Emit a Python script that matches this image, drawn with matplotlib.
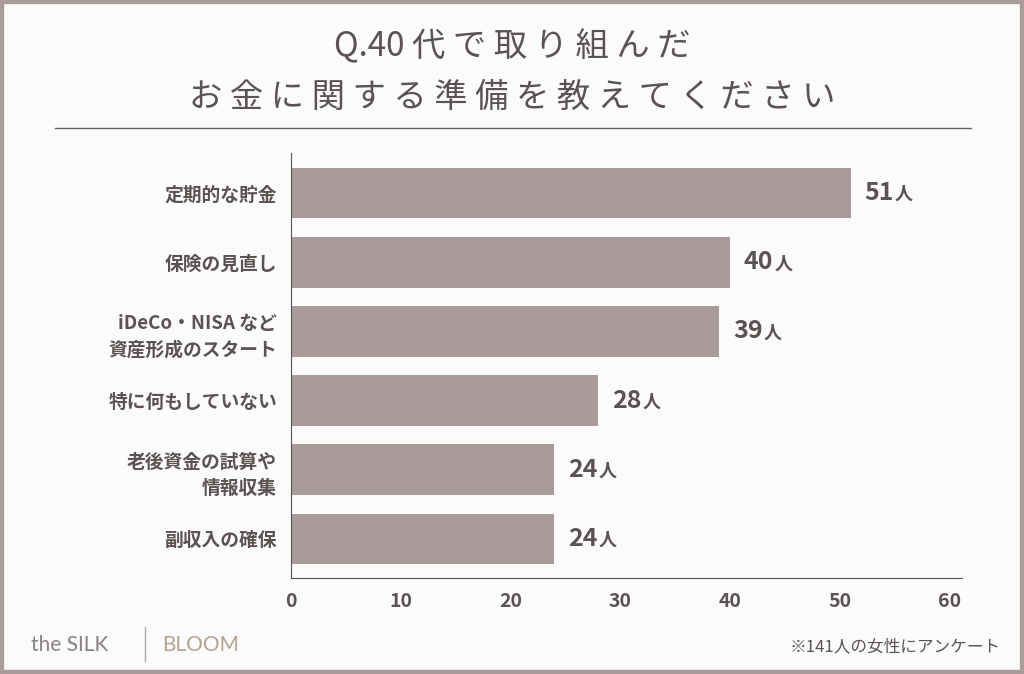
import matplotlib
matplotlib.use("Agg")
import matplotlib.pyplot as plt
from matplotlib.patches import Rectangle

plt.rcParams["font.family"] = "Noto Sans CJK JP"

categories = ["定期的な貯金", "保険の見直し", "iDeCo・NISA など\n資産形成のスタート",
              "特に何もしていない", "老後資金の試算や\n情報収集", "副収入の確保"]
values = [51, 40, 39, 28, 24, 24]
xticks = [0, 10, 20, 30, 40, 50, 60]

txt = "#5b5252"
bar_c = "#a99b99"

fig = plt.figure(figsize=(10.24, 6.74), dpi=100, facecolor="#fcfbfb")
fig.patches.append(Rectangle((0, 0), 1, 1, transform=fig.transFigure, fill=False,
                             edgecolor="#a99b99", linewidth=6))
fig.text(0.5, 0.93, "Q.40 代 で 取 り 組 ん だ", ha="center", va="center", fontsize=24, color=txt)
fig.text(0.5, 0.855, "お 金 に 関 す る 準 備 を 教 え て く だ さ い", ha="center", va="center",
         fontsize=24, color=txt)
fig.add_artist(plt.Line2D([0.054, 0.948], [0.81, 0.81], color="#6a6262", lw=1))

ax = fig.add_axes([0.284, 0.142, 0.655, 0.631])
ax.set_facecolor("none")
y = list(range(len(categories)))
ax.barh(y, values, height=0.73, color=bar_c)
ax.set_ylim(5.57, -0.58)
ax.set_xlim(0, 61.1)
ax.set_xticks(xticks)
ax.set_xticklabels([str(t) for t in xticks], fontsize=14, color=txt, fontweight="bold")
ax.set_yticks(y)
ax.set_yticklabels(categories, fontsize=13.5, color=txt, fontweight="bold", linespacing=1.5)
ax.tick_params(length=0, pad=10)
for s in ["top", "right"]:
    ax.spines[s].set_visible(False)
for s in ["left", "bottom"]:
    ax.spines[s].set_color("#555")
for yi, v in zip(y, values):
    ax.annotate(str(v), (v, yi), xytext=(10, 0), textcoords="offset points",
                va="center", ha="left", fontsize=18, fontweight="bold", color=txt)
    ax.annotate("人", (v, yi), xytext=(32, -1), textcoords="offset points",
                va="center", ha="left", fontsize=13, fontweight="bold", color=txt)

fig.text(0.03, 0.043, "the SILK", fontsize=15, color="#8a8282", va="center", family="Lato")
fig.add_artist(plt.Line2D([0.142, 0.142], [0.02, 0.07], color="#b0a8a8", lw=1))
fig.text(0.158, 0.043, "BLOOM", fontsize=15, color="#b3a48e", va="center", family="Lato")
fig.text(0.977, 0.04, "※141人の女性にアンケート", fontsize=12, color=txt, ha="right", va="center")

fig.savefig("out.png", dpi=100, facecolor=fig.get_facecolor())
